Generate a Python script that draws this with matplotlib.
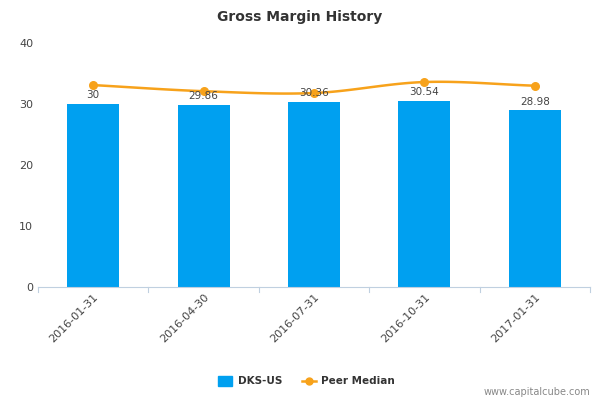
import matplotlib
matplotlib.use("Agg")
import matplotlib.pyplot as plt
import numpy as np

categories = ["2016-01-31", "2016-04-30", "2016-07-31", "2016-10-31", "2017-01-31"]
dks_values = [30.0, 29.86, 30.36, 30.54, 28.98]
peer_median = [33.1, 32.1, 31.8, 33.6, 33.0]
bar_labels = ["30", "29.86", "30.36", "30.54", "28.98"]

fig = plt.figure(figsize=(6, 4), dpi=100)
ax = fig.add_axes([38/600, 1-287/400, 552/600, 244/400])
x = np.arange(len(categories))
ax.bar(x, dks_values, width=0.47, color="#00a0f0", zorder=2)
for xi, v, lab in zip(x, dks_values, bar_labels):
    ax.text(xi, v + 0.6, lab, ha="center", va="bottom", fontsize=7.5, color="#444444", zorder=4)

# smooth curve through points (Catmull-Rom rendering)
p = np.array(peer_median, dtype=float)
pts = np.concatenate([[2*p[0]-p[1]], p, [2*p[-1]-p[-2]]])
xs, ys = [], []
for i in range(len(p)-1):
    t = np.linspace(0, 1, 30)
    p0, p1, p2, p3 = pts[i], pts[i+1], pts[i+2], pts[i+3]
    yv = 0.5*((2*p1) + (-p0+p2)*t + (2*p0-5*p1+4*p2-p3)*t**2 + (-p0+3*p1-3*p2+p3)*t**3)
    xs.append(i + t); ys.append(yv)
ax.plot(np.concatenate(xs), np.concatenate(ys), color="#f7a21b", lw=1.8, zorder=3)
ax.scatter(x, p, color="#f7a21b", s=30, zorder=3)

ax.set_xlim(-0.5, len(categories)-0.5)
ax.set_ylim(0, 40)
ax.set_yticks([0, 10, 20, 30, 40])
ax.set_xticks(x)
ax.set_xticklabels(categories, rotation=45, ha="right", rotation_mode="anchor", fontsize=8, color="#444444")
ax.tick_params(axis="y", length=0, labelsize=8, labelcolor="#444444")
ax.tick_params(axis="x", length=0)
for s in ["top", "right", "left"]:
    ax.spines[s].set_visible(False)
ax.spines["bottom"].set_color("#c0d0e0")
for b in np.arange(-0.5, len(categories), 1.0):
    ax.plot([b, b], [0, -0.02*40], color="#c0d0e0", lw=0.8, clip_on=False)

fig.text(0.5, 1-17/400, "Gross Margin History", ha="center", va="center", fontsize=10, fontweight="bold", color="#333333")

# legend
fig.patches.append(plt.Rectangle((218/600, 1-386/400), 14/600, 10/400, transform=fig.transFigure, color="#00a0f0"))
fig.text(238/600, 1-381/400, "DKS-US", fontsize=7.5, fontweight="bold", va="center", color="#333333")
fig.lines.append(plt.Line2D([302/600, 316/600], [1-381/400]*2, transform=fig.transFigure, color="#f7a21b", lw=1.8))
fig.lines.append(plt.Line2D([309/600], [1-381/400], transform=fig.transFigure, color="#f7a21b", marker="o", ms=5))
fig.text(321/600, 1-381/400, "Peer Median", fontsize=7.5, fontweight="bold", va="center", color="#333333")
fig.text(590/600, 1-392/400, "www.capitalcube.com", fontsize=7, ha="right", va="center", color="#888888")

fig.savefig("out.png", dpi=100)
